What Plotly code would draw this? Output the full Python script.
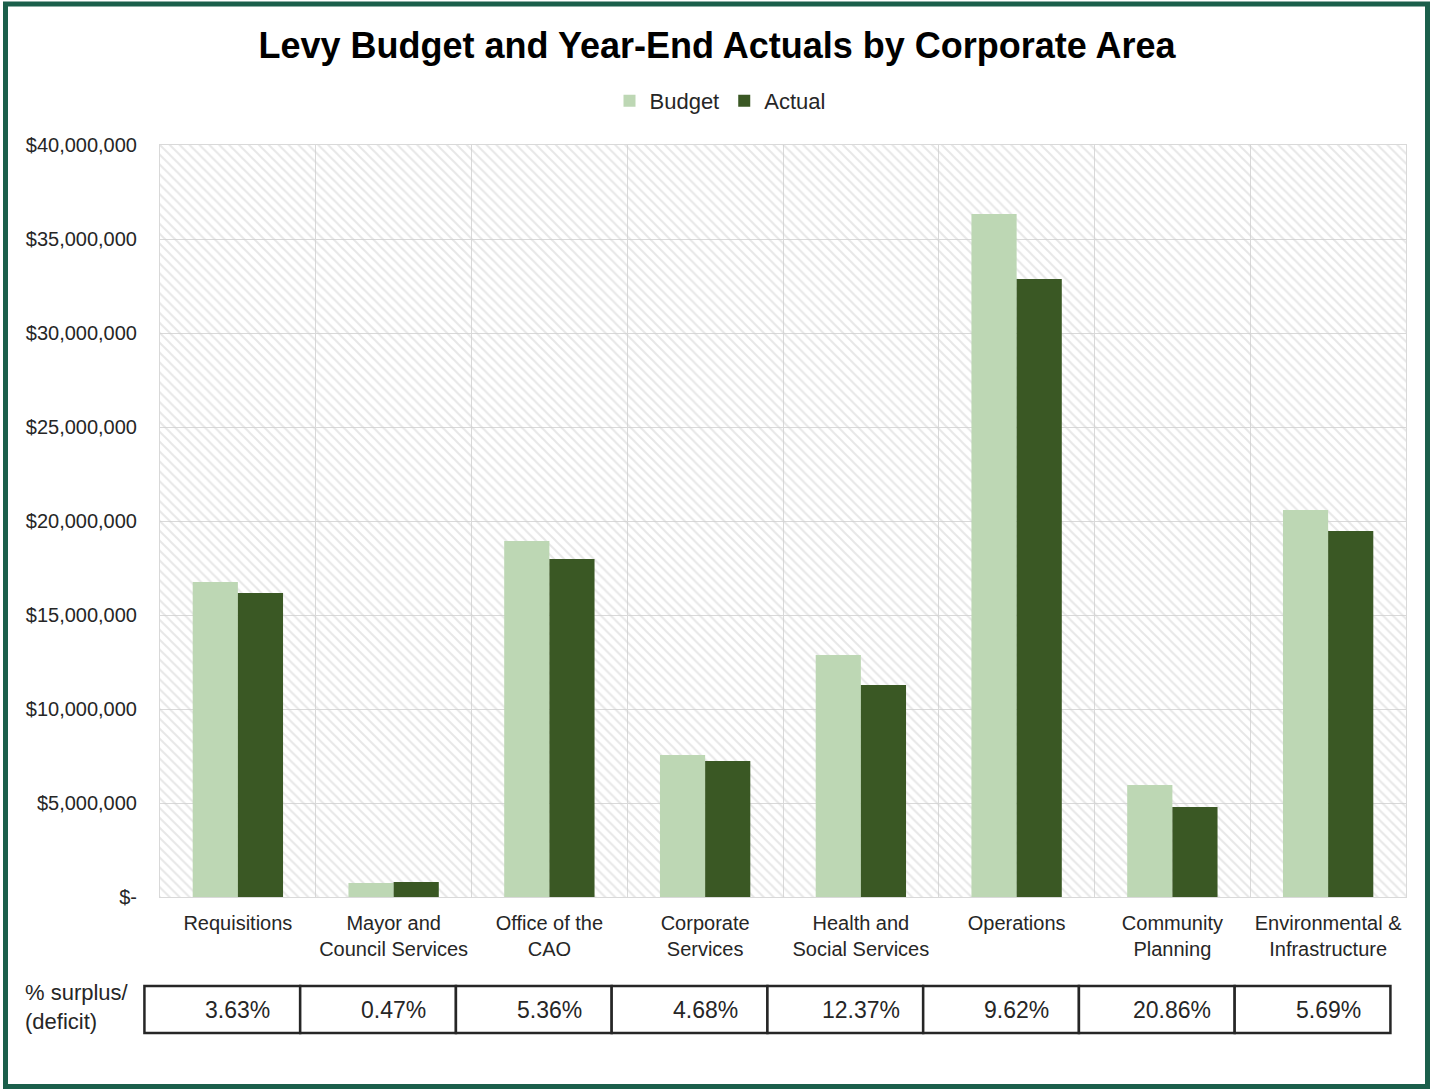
import plotly.graph_objects as go

categories = ["Requisitions", "Mayor and<br>Council Services", "Office of the<br>CAO",
              "Corporate<br>Services", "Health and<br>Social Services", "Operations",
              "Community<br>Planning", "Environmental &<br>Infrastructure"]
budget = [16760000, 750000, 18940000, 7550000, 12870000, 36330000, 5960000, 20590000]
actual = [16170000, 800000, 17980000, 7230000, 11280000, 32870000, 4790000, 19470000]
surplus = ["3.63%", "0.47%", "5.36%", "4.68%", "12.37%", "9.62%", "20.86%", "5.69%"]
y_tickvals = [0, 5e6, 10e6, 15e6, 20e6, 25e6, 30e6, 35e6, 40e6]
y_ticktext = ["$-", "$5,000,000", "$10,000,000", "$15,000,000", "$20,000,000",
              "$25,000,000", "$30,000,000", "$35,000,000", "$40,000,000"]
y_max = 40e6

W, H = 1434, 1089
L, R, T, B = 160, 28, 145, 192
pw, ph = W - L - R, H - T - B

def px_x(p):
    return (p - L) / pw

def px_y(p):
    return (H - B - p) / ph

FONT = "Liberation Sans, Arial, sans-serif"
NARROW = "Liberation Sans Narrow, Arial Narrow, Liberation Sans, sans-serif"

fig = go.Figure()

# hatched plot background
fig.add_trace(go.Bar(
    x=categories, y=[y_max] * len(categories), width=1, offset=-0.5,
    marker=dict(color="rgba(0,0,0,0)", line=dict(width=0),
                pattern=dict(shape="\\", fgcolor="#cfcfcf", bgcolor="rgba(0,0,0,0)",
                             size=7, solidity=0.28)),
    hoverinfo="skip", showlegend=False))

fig.add_trace(go.Bar(x=categories, y=budget, name="Budget",
                     marker=dict(color="#bdd7b4", line=dict(width=0))))
fig.add_trace(go.Bar(x=categories, y=actual, name="Actual",
                     marker=dict(color="#3a5824", line=dict(width=0))))

n = len(categories)
shapes = []
# page border
shapes.append(dict(type="rect", xref="paper", yref="paper",
                   x0=px_x(5.5), x1=px_x(1427.5), y0=px_y(1086.5), y1=px_y(4),
                   line=dict(color="#1b5f4b", width=5), fillcolor="rgba(0,0,0,0)",
                   layer="above"))
# surplus table
ty0, ty1 = px_y(1033), px_y(986)
for i in range(n):
    shapes.append(dict(type="rect", xref="paper", yref="paper",
                       x0=(i - 0.1) / n, x1=(i + 0.9) / n, y0=ty0, y1=ty1,
                       line=dict(color="#262626", width=2.5), fillcolor="white"))

annotations = []
for i, s in enumerate(surplus):
    annotations.append(dict(x=(i + 0.5) / n, xref="paper", y=(ty0 + ty1) / 2, yref="paper",
                            text=s, showarrow=False, xanchor="center", yanchor="middle",
                            font=dict(family=NARROW, size=23, color="#262626")))
annotations.append(dict(x=px_x(23), xref="paper", y=px_y(1007), yref="paper",
                        text="% surplus/<br>(deficit)", showarrow=False,
                        xanchor="left", yanchor="middle", align="left",
                        font=dict(family=NARROW, size=22, color="#262626")))

fig.update_layout(
    width=W, height=H,
    margin=dict(l=L, r=R, t=T, b=B, pad=0),
    paper_bgcolor="white", plot_bgcolor="white",
    barmode="group", bargap=0.42, bargroupgap=0,
    title=dict(text="<b>Levy Budget and Year-End Actuals by Corporate Area</b>",
               x=0.5, xref="container", xanchor="center",
               y=1 - 45 / H, yref="container", yanchor="middle",
               font=dict(family=FONT, size=36, color="black")),
    legend=dict(orientation="h", x=px_x(720), xanchor="center",
                y=px_y(101), yanchor="middle",
                font=dict(family=FONT, size=22, color="#262626"),
                itemwidth=30, traceorder="normal"),
    font=dict(family=FONT, color="#262626"),
    shapes=shapes, annotations=annotations,
    showlegend=True,
)

fig.update_xaxes(type="category", range=[-0.5, n - 0.5],
                 tickson="boundaries", showgrid=True, gridcolor="#d9d9d9", gridwidth=1,
                 showline=True, linecolor="#d9d9d9", linewidth=1, mirror=True,
                 ticks="", tickangle=0,
                 tickfont=dict(family=FONT, size=20, color="#262626"),
                 ticklabelstandoff=8)
fig.update_yaxes(range=[0, y_max], tickvals=y_tickvals, ticktext=y_ticktext,
                 showgrid=True, gridcolor="#d9d9d9", gridwidth=1,
                 showline=True, linecolor="#d9d9d9", linewidth=1, mirror=True,
                 zeroline=False, ticks="",
                 tickfont=dict(family=FONT, size=20, color="#262626"),
                 ticklabelstandoff=18)

fig.write_html("out.html")
